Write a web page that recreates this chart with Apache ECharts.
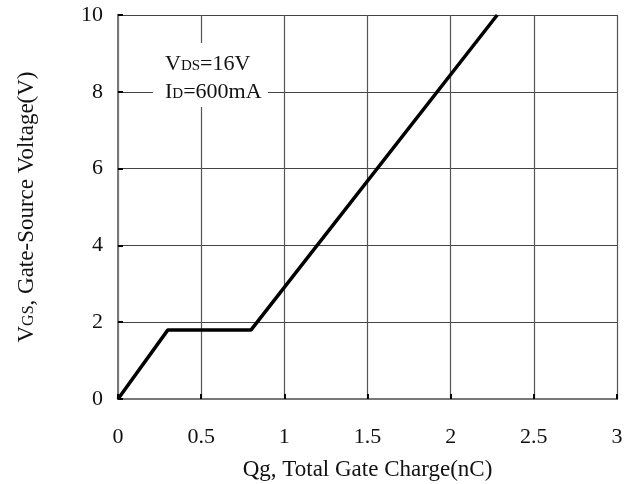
<!DOCTYPE html>
<html>
<head>
<meta charset="utf-8">
<script src="https://cdn.jsdelivr.net/npm/echarts@6/dist/echarts.min.js"></script>
<style>
  html, body { margin: 0; padding: 0; background: #fff; }
  #chart { width: 628px; height: 484px; }
</style>
</head>
<body>
<div id="chart"></div>
<script>
// Gate charge curve: Qg (nC) vs VGS (V)
const qg = [0, 0.3, 0.8, 2.28];
const vgs = [0, 1.8, 1.8, 10];
const xTicks = ['0', '0.5', '1', '1.5', '2', '2.5', '3'];
const yTicks = ['0', '2', '4', '6', '8', '10'];

const serif = '"Liberation Serif", "Times New Roman", serif';
const chart = echarts.init(document.getElementById('chart'));

const curve = qg.map((q, i) => [q, vgs[i]]);

chart.setOption({
  backgroundColor: '#fff',
  animation: false,
  grid: { left: 118, top: 15, width: 499, height: 384, containLabel: false, outerBoundsMode: 'none' },
  xAxis: [{
    type: 'value', min: 0, max: 3, interval: 0.5,
    axisLine: { lineStyle: { color: '#000', width: 2 } },
    axisTick: { show: true, inside: true, length: 5, lineStyle: { color: '#000', width: 2 } },
    axisLabel: {
      margin: 27, color: '#111', fontFamily: serif, fontSize: 22,
      formatter: v => xTicks[Math.round(v / 0.5)]
    },
    splitLine: { show: true, lineStyle: { color: '#555', width: 1.2 } },
    name: '{t|Qg, Total Gate Charge(nC)}',
    nameLocation: 'middle', nameGap: 59,
    nameTextStyle: { rich: { t: { fontFamily: serif, fontSize: 23, color: '#111' } } }
  }, {
    type: 'value', min: 0, max: 3, position: 'top',
    axisLine: { show: true, lineStyle: { color: '#777', width: 2 } },
    axisTick: { show: false }, axisLabel: { show: false }, splitLine: { show: false }
  }],
  yAxis: [{
    type: 'value', min: 0, max: 10, interval: 2,
    axisLine: { show: true, lineStyle: { color: '#000', width: 2 } },
    axisTick: { show: true, inside: true, length: 5, lineStyle: { color: '#000', width: 2 } },
    axisLabel: {
      margin: 15, color: '#111', fontFamily: serif, fontSize: 22,
      formatter: v => yTicks[Math.round(v / 2)]
    },
    splitLine: { show: true, lineStyle: { color: '#444', width: 1.2 } },
    name: '{b|V}{s|GS}{b|, Gate-Source Voltage(V)}',
    nameLocation: 'middle', nameGap: 80, nameRotate: 90,
    nameTextStyle: {
      rich: {
        b: { fontFamily: serif, fontSize: 23, color: '#111', verticalAlign: 'bottom' },
        s: { fontFamily: serif, fontSize: 16, color: '#111', verticalAlign: 'bottom', padding: [0, 0, 1, 0] }
      }
    }
  }, {
    type: 'value', min: 0, max: 10, position: 'right',
    axisLine: { show: true, lineStyle: { color: '#777', width: 2 } },
    axisTick: { show: false }, axisLabel: { show: false }, splitLine: { show: false }
  }],
  series: [{
    type: 'line',
    data: curve,
    showSymbol: false,
    lineStyle: { color: '#000', width: 3.5 },
    z: 5
  }],
  graphic: [{
    type: 'rect',
    shape: { x: 153, y: 43, width: 115, height: 64 },
    style: { fill: '#fff' },
    z: 10
  }, {
    type: 'text',
    x: 165, y: 47,
    style: {
      text: '{b|V}{s|DS}{b|=16V}\n{b|I}{s|D}{b|=600mA}',
      rich: {
        b: { fontFamily: serif, fontSize: 22, fill: '#111', verticalAlign: 'bottom', lineHeight: 28 },
        s: { fontFamily: serif, fontSize: 15, fill: '#111', verticalAlign: 'bottom', lineHeight: 28, padding: [0, 0, 1, 0] }
      }
    },
    z: 11
  }]
});
</script>
</body>
</html>
